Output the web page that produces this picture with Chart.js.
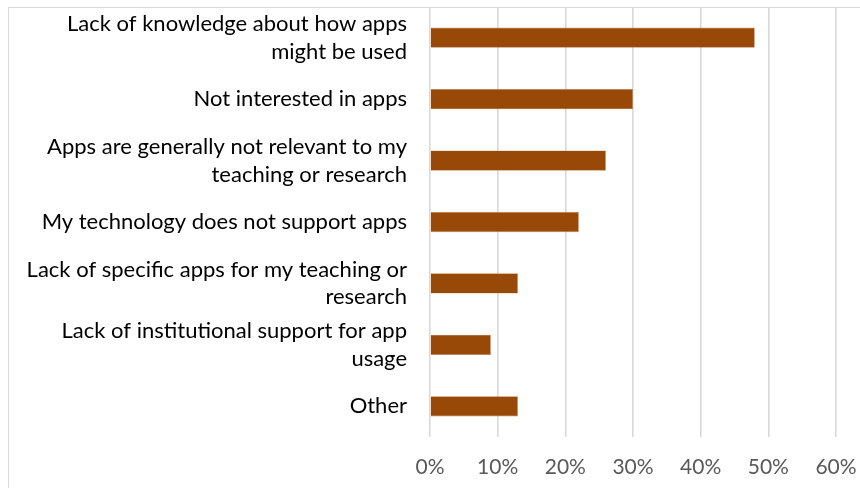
<!DOCTYPE html>
<html>
<head>
<meta charset="utf-8">
<script src="https://cdn.jsdelivr.net/npm/chart.js@4"></script>
<style>
    html, body { margin: 0; padding: 0; background: #fff; overflow: hidden; }
    #wrap { position: relative; width: 860px; height: 488px; }
    #frame {
        position: absolute; left: 8px; top: 7px; width: 900px; height: 600px;
        border: 1px solid #d9d9d9; box-sizing: border-box;
    }
    canvas { position: absolute; left: 0; top: 0; }
</style>
</head>
<body>
<div id="wrap">
    <div id="frame"></div>
    <canvas id="reasonsChart" width="860" height="488"></canvas>
</div>
<script>
// lý do không dùng app (mỗi nhãn chia thành các dòng)
const categories = [
    ["Lack of knowledge about how apps", "might be used"],
    "Not interested in apps",
    ["Apps are generally not relevant to my", "teaching or research"],
    "My technology does not support apps",
    ["Lack of specific apps for my teaching or", "research"],
    ["Lack of institutional support for app", "usage"],
    "Other"
];
const percentValues = [48, 30, 26, 22, 13, 9, 13];
const tickValues = [0, 10, 20, 30, 40, 50, 60];

const FONT = "Lato, 'Open Sans', sans-serif";

function renderReasonsChart() {
    const ctx = document.getElementById("reasonsChart");
    new Chart(ctx, {
        type: "bar",
        data: {
            labels: categories,
            datasets: [{
                data: percentValues,
                backgroundColor: "#984807",
                borderColor: "#c08a5e",
                borderWidth: 0.6,
                barPercentage: 0.66,
                categoryPercentage: 0.5
            }]
        },
        options: {
            indexAxis: "y",
            responsive: false,
            animation: false,
            layout: { padding: { top: 7, right: 24, bottom: 0, left: 0 } },
            plugins: { legend: { display: false }, tooltip: { enabled: false } },
            scales: {
                x: {
                    min: 0,
                    max: 60,
                    afterBuildTicks: axis => { axis.ticks = tickValues.map(v => ({ value: v })); },
                    afterFit: axis => {
                        axis.height = 51;
                        axis.paddingLeft = 0;
                        axis.paddingRight = 0;
                    },
                    grid: { color: "#d9d9d9", lineWidth: 1.6, drawTicks: false },
                    border: { display: false },
                    ticks: {
                        color: "#595959",
                        padding: 18,
                        font: { family: FONT, size: 21 },
                        callback: v => v + "%"
                    }
                },
                y: {
                    afterFit: axis => {
                        axis.width = 430;
                        axis.paddingTop = 0;
                        axis.paddingBottom = 0;
                    },
                    grid: { display: false, drawTicks: false },
                    border: { display: false },
                    ticks: {
                        autoSkip: false,
                        color: "#000",
                        padding: 23,
                        font: { family: FONT, size: 22, lineHeight: 1.27 }
                    }
                }
            }
        }
    });
}

renderReasonsChart();
</script>
</body>
</html>
